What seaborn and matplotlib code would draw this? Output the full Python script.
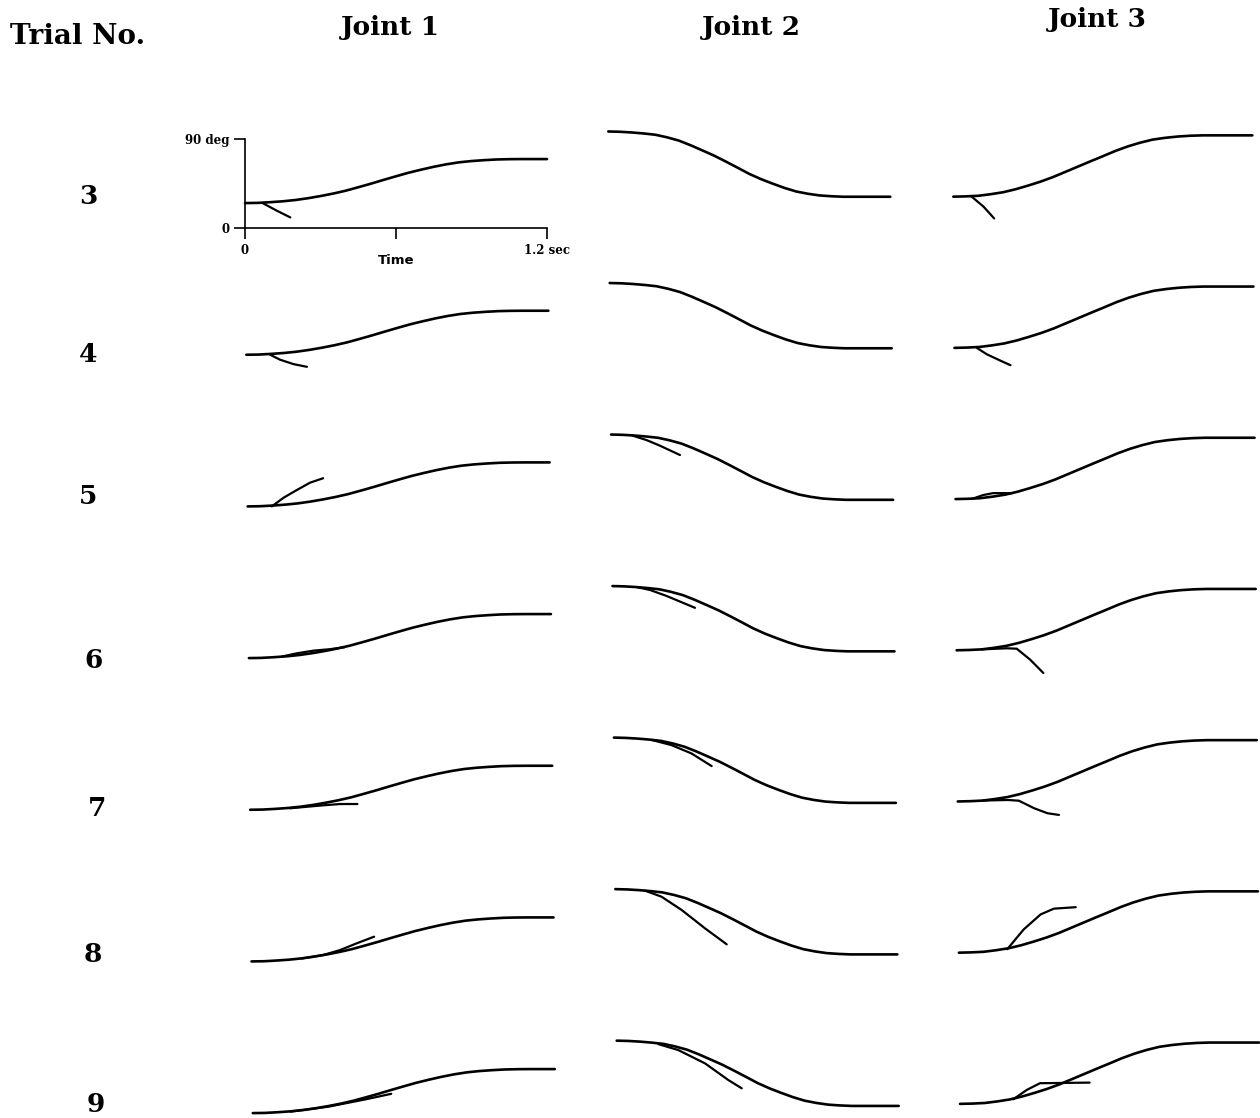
import seaborn as sns
import matplotlib.pyplot as plt

# planned joint trajectories (deg) sampled every 0.05 sec
time_grid = [0.0, 0.05, 0.1, 0.15, 0.2, 0.25, 0.3, 0.35, 0.4, 0.45, 0.5, 0.55, 0.6,
             0.65, 0.7, 0.75, 0.8, 0.85, 0.9, 0.95, 1.0, 1.05, 1.1, 1.15, 1.2]
joint1_plan = [25.5, 25.7, 26.4, 27.3, 28.6, 30.4, 32.6, 35.1, 38.0, 41.5, 45.1, 48.9, 52.6,
               56.2, 59.3, 62.2, 64.7, 66.7, 68.0, 68.9, 69.6, 69.9, 70.0, 70.0, 70.0]
joint2_plan = [98.0, 97.7, 97.0, 96.0, 94.7, 92.1, 88.8, 84.1, 78.9, 73.6, 67.6, 61.4, 55.1,
               49.8, 45.2, 40.9, 37.3, 35.0, 33.3, 32.5, 32.0, 32.0, 32.0, 32.0, 32.0]
joint3_plan = [25.0, 25.3, 25.9, 27.5, 29.5, 32.5, 36.2, 40.2, 44.8, 50.1, 55.4, 60.7, 65.9,
               71.2, 75.8, 79.6, 82.7, 84.5, 85.8, 86.6, 87.0, 87.0, 87.0, 87.0, 87.0]

trials = [3, 4, 5, 6, 7, 8, 9]

# actual (diverging) trajectories per trial
joint1_run_t = [[0.07, 0.125, 0.18],
                [0.095, 0.134, 0.188, 0.241],
                [0.096, 0.143, 0.195, 0.248, 0.3],
                [0.13, 0.19, 0.256, 0.322, 0.38],
                [0.158, 0.29, 0.357, 0.426],
                [0.2, 0.285, 0.352, 0.42, 0.487],
                [0.15, 0.3, 0.45, 0.55]]
joint1_run_deg = [[25.5, 18.0, 11.0],
                  [25.5, 20.5, 16.0, 13.3],
                  [25.5, 34.3, 42.0, 49.5, 54.0],
                  [27.0, 30.3, 33.0, 34.5, 36.5],
                  [27.0, 30.0, 31.3, 31.3],
                  [28.5, 32.0, 37.0, 44.0, 50.5],
                  [27.0, 32.0, 39.5, 45.0]]

joint2_run_t = [[],
                [],
                [0.09, 0.151, 0.208, 0.293],
                [0.103, 0.16, 0.23, 0.351],
                [0.16, 0.245, 0.33, 0.416],
                [0.126, 0.197, 0.283, 0.382, 0.474],
                [0.177, 0.262, 0.376, 0.475, 0.532]]
joint2_run_deg = [[],
                  [],
                  [97.0, 92.4, 86.7, 77.3],
                  [97.0, 94.0, 88.0, 76.0],
                  [95.7, 90.4, 82.0, 69.2],
                  [96.5, 90.3, 76.8, 58.3, 42.2],
                  [94.5, 88.5, 75.0, 58.2, 49.8]]

joint3_run_t = [[0.074, 0.121, 0.164],
                [0.09, 0.13, 0.194, 0.225],
                [0.07, 0.11, 0.15, 0.23],
                [0.1, 0.2, 0.241, 0.295, 0.348],
                [0.1, 0.2, 0.245, 0.306, 0.36, 0.406],
                [0.194, 0.26, 0.328, 0.381, 0.469],
                [0.214, 0.268, 0.321, 0.52]]
joint3_run_deg = [[25.0, 15.0, 3.0],
                  [25.0, 18.5, 11.0, 7.5],
                  [25.5, 29.0, 31.0, 31.0],
                  [25.9, 27.0, 26.6, 15.5, 2.0],
                  [25.9, 26.5, 25.8, 18.2, 13.1, 11.4],
                  [28.5, 48.5, 63.7, 69.5, 71.0],
                  [29.7, 39.1, 45.9, 46.5]]

column_titles = ["Joint 1", "Joint 2", "Joint 3"]

plans = [joint1_plan, joint2_plan, joint3_plan]
runs_t = [joint1_run_t, joint2_run_t, joint3_run_t]
runs_deg = [joint1_run_deg, joint2_run_deg, joint3_run_deg]

# page layout in pixels (scanned sheet is slightly skewed)
W, H = 1260, 1118
PX_DEG = 0.989
YLIM = (-12, 106)
col_x0 = [245.0, 608.3, 953.3]
col_dx = [1.3, 1.4, 1.12]
col_pxs = [251.7, 235.0, 249.2]
col_y0 = [228.3, 228.4, 221.4]
col_dy = [151.67, 151.53, 151.2]
title_xy = [(390, 28), (751, 27), (1097, 20)]
label_xy = [(88, 197), (88, 354), (88, 497), (93, 660), (97, 808), (93, 955), (96, 1105)]

sns.set_theme(style="white")
plt.rcParams['font.family'] = ['DejaVu Serif', 'DejaVu Sans']
plt.rcParams['text.color'] = 'black'
plt.rcParams['xtick.color'] = 'black'
plt.rcParams['ytick.color'] = 'black'
plt.rcParams['axes.labelcolor'] = 'black'

fig = plt.figure(figsize=(12.6, 11.18), dpi=100)


def add_panel(x0, y0, pxs):
    top = y0 - YLIM[1] * PX_DEG
    bottom = y0 - YLIM[0] * PX_DEG
    ax = fig.add_axes([x0 / W, 1 - bottom / H, 1.2 * pxs / W, (bottom - top) / H])
    ax.set_xlim(0, 1.2)
    ax.set_ylim(*YLIM)
    ax.patch.set_alpha(0)
    return ax


for c in range(3):
    for r, trial in enumerate(trials):
        ax = add_panel(col_x0[c] + col_dx[c] * r, col_y0[c] + col_dy[c] * r, col_pxs[c])
        sns.lineplot(x=time_grid, y=plans[c], ax=ax, color="black", linewidth=1.9,
                     sort=False, estimator=None, clip_on=False)
        if len(runs_t[c][r]) > 0:
            sns.lineplot(x=runs_t[c][r], y=runs_deg[c][r], ax=ax, color="black",
                         linewidth=1.6, sort=False, estimator=None, clip_on=False)
        ax.set_xlabel("")
        ax.set_ylabel("")
        if c == 0 and r == 0:
            for s in ["top", "right"]:
                ax.spines[s].set_visible(False)
            for s in ["left", "bottom"]:
                ax.spines[s].set_color("black")
                ax.spines[s].set_linewidth(1.2)
            ax.spines["bottom"].set_position(("data", 0))
            ax.spines["left"].set_bounds(0, 90)
            ax.spines["bottom"].set_bounds(0, 1.2)
            ax.set_xticks([0, 0.6, 1.2])
            ax.set_xticklabels(["0", "", "1.2 sec"])
            ax.set_yticks([0, 90])
            ax.set_yticklabels(["0", "90 deg"])
            ax.tick_params(bottom=True, left=True, direction="out", length=8,
                           width=1.2, color="black", pad=3, labelsize=8.5)
            for lab in ax.get_xticklabels() + ax.get_yticklabels():
                lab.set_fontweight("bold")
            ax.set_xlabel("Time", fontsize=9.5, fontweight="bold", labelpad=1,
                          family=["DejaVu Sans"])
            ax.xaxis.set_label_coords(0.5, -0.115)
        else:
            ax.set_axis_off()

fig.text(10 / W, 1 - 37 / H, "Trial No.", fontsize=20, fontweight="bold",
         ha="left", va="center")
for (x, y), title in zip(title_xy, column_titles):
    fig.text(x / W, 1 - y / H, title, fontsize=19, fontweight="bold",
             ha="center", va="center")
for (x, y), trial in zip(label_xy, trials):
    fig.text(x / W, 1 - y / H, str(trial), fontsize=19, fontweight="heavy",
             ha="center", va="center")

fig.savefig("out.png", dpi=100)
